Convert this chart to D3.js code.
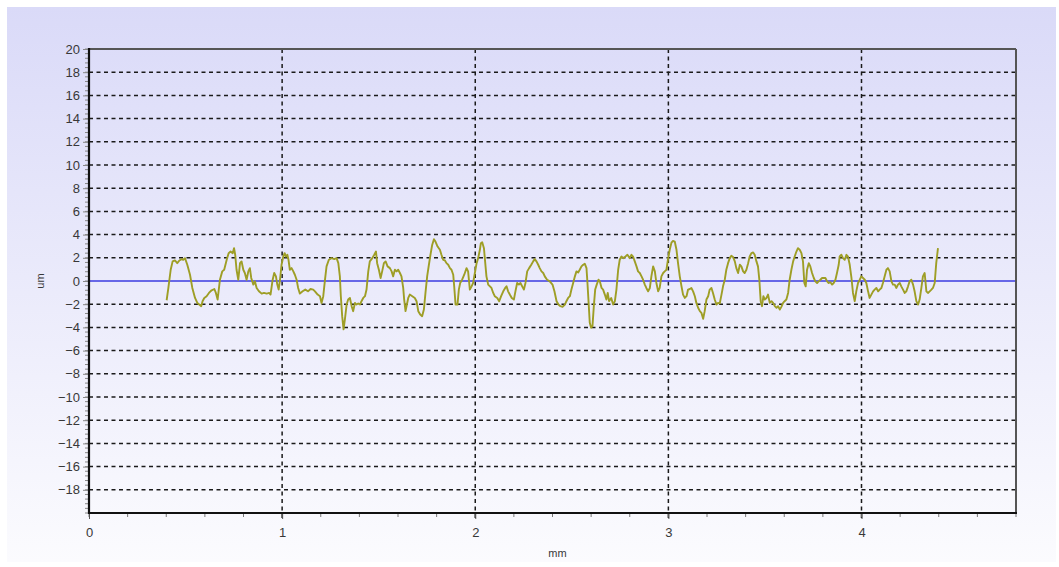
<!DOCTYPE html>
<html><head><meta charset="utf-8">
<script src="https://cdn.jsdelivr.net/npm/d3@7/dist/d3.min.js"></script>
<style>html,body{margin:0;padding:0;background:#fff;}svg{display:block;font-family:"Liberation Sans",Arial,sans-serif;}</style>
</head><body><svg id="c" width="1059" height="567"></svg>
<script>
const xTicks = [0,1,2,3,4];
const yTicks = [20,18,16,14,12,10,8,6,4,2,0,-2,-4,-6,-8,-10,-12,-14,-16,-18];
const xLabel = "mm", yLabel = "um";
const profX = [0.402,0.411,0.423,0.433,0.445,0.457,0.468,0.480,0.488,0.497,0.509,0.523,0.535,0.549,0.561,0.571,0.581,0.588,0.597,0.609,0.621,0.635,0.649,0.657,0.666,0.678,0.690,0.700,0.713,0.723,0.733,0.744,0.751,0.757,0.764,0.773,0.782,0.790,0.799,0.807,0.816,0.825,0.833,0.840,0.851,0.859,0.868,0.880,0.894,0.906,0.920,0.933,0.940,0.951,0.959,0.968,0.975,0.982,0.989,0.997,1.006,1.013,1.020,1.027,1.033,1.040,1.049,1.058,1.066,1.075,1.083,1.092,1.106,1.120,1.134,1.147,1.161,
1.170,1.184,1.196,1.204,1.213,1.222,1.230,1.242,1.256,1.270,1.282,1.291,1.299,1.304,1.311,1.318,1.325,1.334,1.342,1.351,1.360,1.368,1.377,1.385,1.394,1.403,1.411,1.420,1.429,1.437,1.446,1.454,1.467,1.477,1.486,1.492,1.501,1.510,1.518,1.527,1.536,1.546,1.558,1.567,1.575,1.584,1.593,1.601,1.610,1.618,1.627,1.632,1.639,1.646,1.653,1.661,1.674,1.687,1.696,1.705,1.715,1.725,1.734,1.743,1.751,1.760,1.768,1.777,1.786,1.794,1.805,1.817,1.825,1.834,1.843,1.851,1.860,1.869,1.877,1.886,1.891,1.898,1.908,1.915,1.922,1.932,1.943,1.955,1.963,
1.972,1.981,1.989,1.998,2.007,2.015,2.024,2.029,2.036,2.045,2.051,2.058,2.067,2.076,2.084,2.093,2.101,2.114,2.124,2.134,2.145,2.155,2.162,2.170,2.179,2.189,2.200,2.208,2.217,2.226,2.234,2.243,2.252,2.260,2.269,2.279,2.290,2.300,2.308,2.317,2.326,2.334,2.343,2.352,2.360,2.372,2.386,2.400,2.410,2.421,2.431,2.441,2.452,2.464,2.472,2.481,2.490,2.498,2.507,2.516,2.524,2.533,2.541,2.550,2.559,2.567,2.576,2.581,2.588,2.593,2.600,2.607,2.614,2.621,2.629,2.638,2.645,2.654,2.662,2.671,2.679,2.686,2.693,2.704,2.714,2.723,2.731,2.740,2.748,2.757,2.766,
2.774,2.788,2.800,2.809,2.817,2.826,2.835,2.843,2.852,2.861,2.869,2.878,2.886,2.895,2.904,2.912,2.921,2.930,2.938,2.947,2.955,2.964,2.973,2.981,2.990,2.999,3.007,3.016,3.024,3.033,3.042,3.050,3.059,3.068,3.076,3.085,3.094,3.102,3.111,3.119,3.128,3.137,3.145,3.154,3.163,3.171,3.180,3.188,3.197,3.206,3.214,3.223,3.231,3.240,3.249,3.257,3.266,3.275,3.283,3.292,3.300,3.309,3.318,3.326,3.335,3.344,3.352,3.361,3.370,3.378,3.387,3.395,3.404,3.413,3.421,3.430,3.439,3.447,3.456,3.464,3.471,3.478,3.485,3.492,3.499,3.508,3.516,3.525,3.534,3.542,3.551,3.560,3.568,
3.577,3.585,3.594,3.602,3.611,3.620,3.628,3.637,3.646,3.654,3.663,3.671,3.680,3.689,3.697,3.704,3.711,3.718,3.727,3.735,3.744,3.753,3.761,3.770,3.778,3.787,3.796,3.804,3.813,3.822,3.830,3.839,3.848,3.856,3.865,3.873,3.882,3.887,3.896,3.904,3.913,3.922,3.930,3.939,3.948,3.956,3.965,3.973,3.982,3.991,3.999,4.008,4.017,4.025,4.034,4.042,4.051,4.060,4.068,4.077,4.086,4.094,4.103,4.111,4.120,4.129,4.137,4.146,4.155,4.163,4.172,4.180,4.189,4.198,4.206,4.215,4.224,4.232,4.241,4.249,4.258,4.267,4.275,4.284,4.293,4.301,4.310,4.318,4.327,4.336,4.344,4.353,4.362,4.370,4.379,4.387,4.396];
const profY = [-1.66,-0.6,0.97,1.69,1.77,1.54,1.77,1.89,1.83,1.97,1.4,0.54,-0.6,-1.46,-1.89,-2.03,-2.17,-1.74,-1.46,-1.31,-1.03,-0.8,-0.69,-1.03,-1.6,0.11,0.83,0.97,1.83,2.4,2.54,2.4,2.83,2.26,0.97,0.11,1.54,1.69,0.97,0.69,0.11,0.83,1.11,0.26,-0.31,-0.03,-0.6,-0.89,-1.09,-1.03,-1.09,-1.03,-1.17,0.11,0.69,0.4,-0.31,-0.74,0.11,1.4,2.11,2.4,2.11,2.26,1.83,0.97,1.11,0.83,0.54,0.11,-0.6,-1.09,-0.89,-0.74,-0.89,-0.69,-0.74,
-0.89,-1.17,-1.31,-1.89,-1.31,0.11,1.26,1.83,1.97,1.89,1.97,1.54,0.4,-1.31,-3.03,-4.17,-3.31,-2.03,-1.6,-1.46,-2.17,-2.6,-1.89,-2.03,-1.94,-2.03,-1.74,-1.46,-1.31,-0.74,0.83,1.69,1.97,2.26,2.54,1.54,0.97,0.26,0.83,1.54,1.69,1.26,1.11,0.83,0.4,0.97,0.83,0.97,0.69,0.4,-0.6,-1.6,-2.6,-2.03,-1.46,-1.17,-1.31,-1.46,-1.74,-2.6,-2.89,-3.03,-2.46,-0.89,0.4,1.4,2.26,3.11,3.6,3.4,2.97,2.69,2.26,1.83,1.77,1.54,1.4,1.11,0.97,0.54,-0.46,-2.03,-2.03,-0.74,-0.17,0.11,0.54,1.11,0.83,
-0.74,-0.46,-0.17,0.69,1.54,1.97,2.69,3.26,3.34,2.83,1.69,0.4,-0.31,-0.46,-0.6,-1.03,-1.31,-1.46,-1.74,-1.31,-0.89,-0.6,-0.46,-0.89,-1.17,-1.46,-1.6,-0.89,-0.17,-0.31,-0.17,-0.46,-0.74,-0.17,0.83,1.11,1.4,1.69,1.89,1.69,1.4,1.11,0.83,0.69,0.4,0.11,-0.03,-0.31,-0.89,-1.74,-2.03,-2.17,-2.23,-2.03,-1.74,-1.46,-1.31,-0.74,-0.17,0.4,0.83,0.74,0.97,1.26,1.4,1.49,1.11,-0.17,-2.17,-3.6,-4.03,-3.89,-2.17,-0.74,-0.31,0.11,-0.03,-0.6,-0.74,-1.17,-1.6,-1.03,-1.74,-1.46,-2.03,-1.74,-0.74,0.97,1.83,2.11,1.97,
2.06,2.26,1.97,2.26,2.11,1.69,1.26,0.83,0.69,0.4,0.11,-0.31,-0.6,-0.89,-0.6,0.4,1.26,0.83,-0.17,-0.89,-0.6,0.4,0.69,0.83,0.97,1.97,2.69,3.31,3.46,3.4,2.69,1.54,0.4,-0.46,-1.17,-1.46,-1.31,-0.74,-0.69,-0.6,-0.89,-1.31,-1.89,-2.31,-2.6,-2.74,-3.26,-2.6,-1.6,-1.31,-0.74,-0.6,-1.03,-1.6,-2.03,-1.89,-1.94,-1.17,-0.46,0.11,0.97,1.54,1.97,2.17,2.06,1.69,1.11,0.69,1.4,1.26,0.83,0.69,0.97,1.54,2.11,2.4,2.46,2.26,1.69,1.26,0.11,-1.74,-2.17,-1.31,-1.6,-1.46,-1.17,-1.89,-1.74,-1.89,-2.17,-2.31,-2.17,
-2.46,-2.23,-1.89,-1.74,-1.6,-1.03,0.11,0.97,1.69,2.11,2.54,2.83,2.69,2.4,1.69,-0.17,-0.46,0.97,1.54,1.26,0.69,0.26,-0.03,-0.17,-0.03,0.11,0.26,0.26,0.26,-0.03,-0.17,-0.11,-0.31,-0.17,0.11,0.69,1.4,2.11,2.26,1.97,1.83,2.26,2.11,1.4,0.26,-1.03,-1.74,-0.89,-0.17,0.11,0.4,0.26,0.11,-0.17,-0.89,-1.46,-1.17,-0.89,-0.74,-0.6,-0.89,-0.74,-0.6,-0.17,0.4,0.97,1.11,0.83,-0.03,-0.31,-0.31,-0.6,-0.31,-0.17,-0.46,-0.74,-1.03,-0.89,-0.46,-0.03,0.11,-0.31,-0.89,-1.74,-2.03,-1.6,-0.6,0.4,0.69,-0.89,-1.03,-0.89,-0.74,-0.6,-0.17,1.54,2.83];

const W = 1059, H = 567;
const m = {left: 89, right: 1016, top: 49, bottom: 513};
const svg = d3.select("#c");
const defs = svg.append("defs");
const g = defs.append("linearGradient").attr("id","bg").attr("x1",0).attr("y1",0).attr("x2",0).attr("y2",1);
g.append("stop").attr("offset","0%").attr("stop-color","#dadaf8");
g.append("stop").attr("offset","100%").attr("stop-color","#fbfbfe");
svg.append("rect").attr("x",0).attr("y",0).attr("width",W).attr("height",H).attr("fill","#ffffff");
svg.append("rect").attr("x",7).attr("y",7).attr("width",W-10).attr("height",H-12).attr("fill","url(#bg)");

const x = d3.scaleLinear().domain([0,4.8]).range([m.left, m.right]);
const y = d3.scaleLinear().domain([-20,20]).range([m.bottom, m.top]);

// grid
const grid = svg.append("g").attr("stroke","#1a1a1a").attr("stroke-width",1.5).attr("stroke-dasharray","4,3.5");
grid.selectAll("line.h").data(yTicks.filter(v => v !== 0 && v !== 20)).enter().append("line")
  .attr("x1", m.left).attr("x2", m.right).attr("y1", d => y(d)).attr("y2", d => y(d));
grid.selectAll("line.v").data(xTicks.filter(v => v !== 0)).enter().append("line")
  .attr("y1", m.top).attr("y2", m.bottom + 5).attr("x1", d => x(d)).attr("x2", d => x(d));

// minor ticks
const yMinor = d3.range(-20, 20.001, 0.4);
svg.append("g").selectAll("line").data(yMinor).enter().append("line")
  .attr("x1", m.left - 4).attr("x2", m.left).attr("y1", d => y(d)).attr("y2", d => y(d))
  .attr("stroke","#888").attr("stroke-width",1);
const xMinor = d3.range(0, 4.801, 0.2);
svg.append("g").selectAll("line").data(xMinor).enter().append("line")
  .attr("y1", m.bottom).attr("y2", m.bottom + 4).attr("x1", d => x(d)).attr("x2", d => x(d))
  .attr("stroke","#777").attr("stroke-width",1);

// zero line
svg.append("line").attr("x1", m.left).attr("x2", m.right).attr("y1", y(0)).attr("y2", y(0))
  .attr("stroke","#3b3be0").attr("stroke-width",1.5);

// profile
const pts = profX.map((v,i) => [v, profY[i]]);
svg.append("path").datum(pts)
  .attr("d", d3.line().x(d => x(d[0])).y(d => y(d[1])))
  .attr("fill","none").attr("stroke","#9e9e26").attr("stroke-width",1.9).attr("stroke-linejoin","round");

// frame
svg.append("line").attr("x1", m.left).attr("x2", m.right).attr("y1", m.top).attr("y2", m.top).attr("stroke","#555").attr("stroke-width",2);
svg.append("line").attr("x1", m.right).attr("x2", m.right).attr("y1", m.top).attr("y2", m.bottom).attr("stroke","#555").attr("stroke-width",2);

// axes
const yAxis = d3.axisLeft(y).tickValues(yTicks).tickSize(6).tickPadding(3).tickFormat(d3.format("d"));
const ya = svg.append("g").attr("transform", `translate(${m.left},0)`).call(yAxis);
ya.select(".domain").remove();
ya.selectAll(".tick line").attr("stroke","#888");
ya.selectAll(".tick text").attr("font-size","13px").attr("fill","#383838").attr("font-family","Liberation Sans, Arial, sans-serif");

const xAxis = d3.axisBottom(x).tickValues(xTicks).tickSize(6).tickPadding(9).tickFormat(d3.format("d"));
const xa = svg.append("g").attr("transform", `translate(0,${m.bottom})`).call(xAxis);
xa.select(".domain").remove();
xa.selectAll(".tick line").attr("stroke","#555");
xa.selectAll(".tick text").attr("font-size","13px").attr("fill","#383838").attr("font-family","Liberation Sans, Arial, sans-serif");

svg.append("line").attr("x1", m.left).attr("x2", m.left).attr("y1", m.top - 1).attr("y2", m.bottom + 1).attr("stroke","#111").attr("stroke-width",2.2);
svg.append("line").attr("x1", m.left - 1).attr("x2", m.right + 1).attr("y1", m.bottom).attr("y2", m.bottom).attr("stroke","#111").attr("stroke-width",2.2);

svg.append("text").attr("x", (m.left + m.right)/2 + 5).attr("y", 557).attr("text-anchor","middle")
  .attr("font-size","11px").attr("fill","#383838").text(xLabel);
svg.append("text").attr("transform", `translate(44,${y(0)}) rotate(-90)`).attr("text-anchor","middle")
  .attr("font-size","11px").attr("fill","#383838").text(yLabel);
</script></body></html>
